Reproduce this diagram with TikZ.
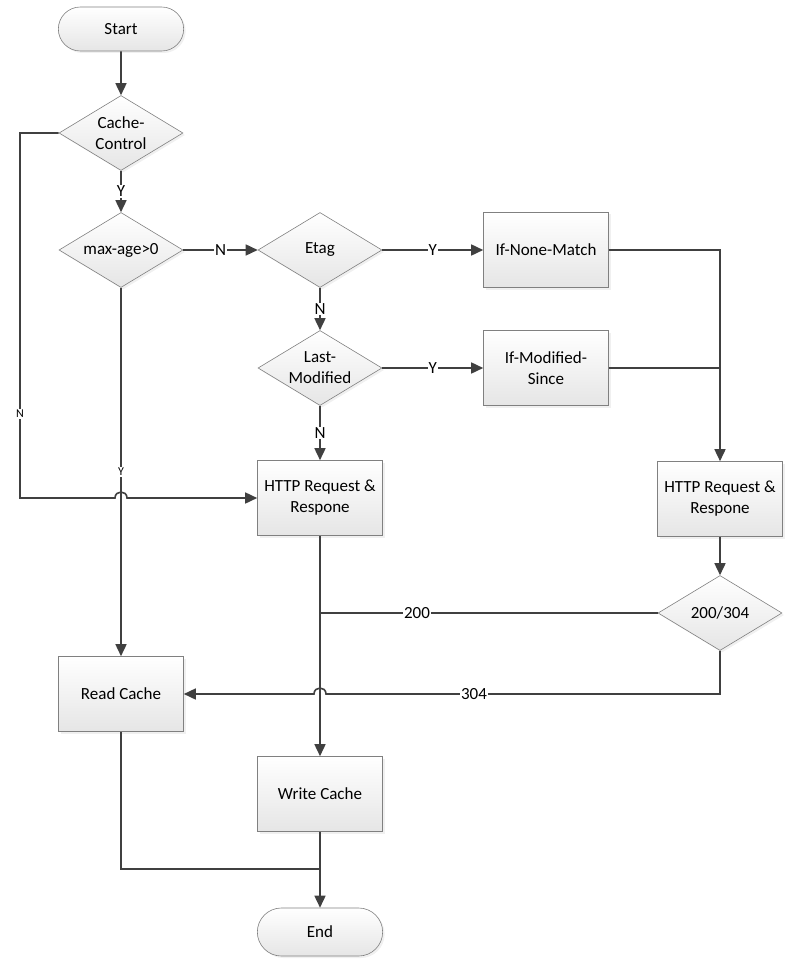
\documentclass[tikz,border=0pt]{standalone}
\usepackage{fontspec}
\setmainfont{Carlito}
\usetikzlibrary{shapes.geometric,shapes.misc,arrows.meta,shadows}

\begin{document}
\begin{tikzpicture}[x=1pt,y=-1pt,
  box/.style={shape=rectangle, draw=black!50, line width=0.6pt, top color=white, bottom color=black!10, minimum width=125pt, minimum height=75pt, align=center, font=\fontsize{17}{21}\selectfont, drop shadow={opacity=0.12, shadow xshift=2pt, shadow yshift=-2pt}},
  test/.style={box, shape=diamond, aspect=1.65, inner sep=0pt, minimum width=124pt, minimum height=75pt},
  term/.style={box, shape=rounded rectangle, minimum width=132pt},
  conn/.style={draw=black!75, line width=1.6pt},
  flow/.style={conn, -{Triangle[length=12pt,width=11pt]}},
  lbl/.style={fill=white, inner sep=1pt, font=\fontsize{17}{20}\selectfont},
  slbl/.style={fill=white, inner sep=1pt, font=\fontsize{12}{14}\selectfont}]
\useasboundingbox (0,0) rectangle (802,973);
\node[term, minimum height=44pt] (start) at (121,29) {Start};
\node[test] (cc) at (121,133) {Cache-\\Control};
\node[test] (maxage) at (121,250) {max-age>0};
\node[test] (etag) at (320,250) {Etag};
\node[box] (inm) at (546,250) {If-None-Match};
\node[test] (lastmod) at (320,368) {Last-\\Modified};
\node[box] (ims) at (546,368) {If-Modified-\\Since};
\node[box] (http1) at (320,498) {HTTP Request \&\\Respone};
\node[box] (http2) at (720,499) {HTTP Request \&\\Respone};
\node[test] (code) at (720,613) {200/304};
\node[box] (read) at (121,694) {Read Cache};
\node[box] (write) at (320,794) {Write Cache};
\node[term, minimum height=48pt] (end) at (320,932) {End};
\coordinate (join) at (320,869);
\draw[flow] (start) -- (cc);
\draw[flow] (cc) -- node[lbl] {Y} (maxage);
\draw[flow] (maxage) -- node[lbl] {N} (etag);
\draw[flow] (etag) -- node[lbl] {Y} (inm);
\draw[flow] (etag) -- node[lbl] {N} (lastmod);
\draw[flow] (lastmod) -- node[lbl] {Y} (ims);
\draw[flow] (lastmod) -- node[lbl] {N} (http1);
\draw[flow] (inm.east) -| (http2.north);
\draw[conn] (ims.east) -- (ims.east -| http2.north);
\draw[flow] (http2) -- (code);
\draw[flow] (http1) -- (write);
\draw[conn] (code.west) -- (code.west -| http1.south);
\node[lbl] (l200) at (417,613) {200};
\draw[flow] (code.south) |- (326,694) .. controls (326,686) and (314,686) .. (314,694) -- (read.east);
\node[lbl] (l304) at (474,694) {304};
\draw[flow] (cc.west) -- (20,133) -- node[slbl, pos=0.77] {N} (20,498) -- (115,498) .. controls (115,490) and (127,490) .. (127,498) -- (http1.west);
\draw[flow] (maxage) -- node[slbl] {Y} (read);
\draw[conn] (read.south) |- (join);
\draw[flow] (write) -- (end);
\end{tikzpicture}
\end{document}
